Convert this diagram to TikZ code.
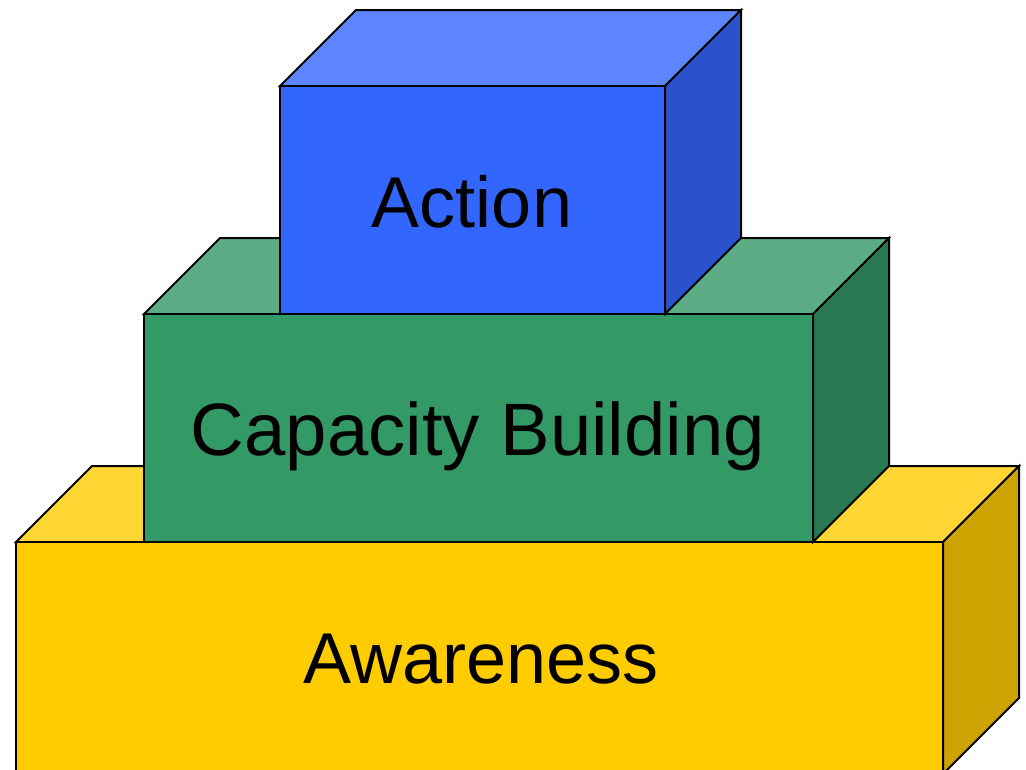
\documentclass[tikz,border=0pt]{standalone}
\usepackage{fontspec}
\setmainfont{Liberation Sans}
\definecolor{yfront}{HTML}{FFCC00}
\definecolor{ytop}{HTML}{FFD633}
\definecolor{yside}{HTML}{CCA300}
\definecolor{gfront}{HTML}{339966}
\definecolor{gtop}{HTML}{5CAD85}
\definecolor{gside}{HTML}{297A52}
\definecolor{bfront}{HTML}{3366FF}
\definecolor{btop}{HTML}{5C85FF}
\definecolor{bside}{HTML}{2952CC}
\newcommand{\mybox}[7]{%
  % #1 x1, #2 y1 (top), #3 x2, #4 y2 (bottom), #5 front, #6 top, #7 side
  \filldraw[face,fill=#6] (#1,#2) -- ++(76,-76) -- (#3+76,#2-76) -- (#3,#2) -- cycle;
  \filldraw[face,fill=#7] (#3,#2) -- (#3+76,#2-76) -- (#3+76,#4-76) -- (#3,#4) -- cycle;
  \filldraw[face,fill=#5] (#1,#2) rectangle (#3,#4);
}
\begin{document}
\begin{tikzpicture}[x=1pt,y=-1pt,
  face/.style={draw=black,line width=2pt,line join=miter},
  label/.style={font=\fontsize{72}{86}\selectfont,text=black,anchor=base,inner sep=0pt}]
\useasboundingbox (0,0) rectangle (1026,769);
\clip (0,0) rectangle (1026,769);
\mybox{16}{542}{943}{774}{yfront}{ytop}{yside}
\mybox{144}{314}{813}{542}{gfront}{gtop}{gside}
\mybox{280}{86}{665}{314}{bfront}{btop}{bside}
\node[label] (action) at (472,227) {Action};
\node[label,font=\fontsize{74.3}{88}\selectfont] (capacity) at (478,455) {Capacity Building};
\node[label] (awareness) at (481,683) {Awareness};
\end{tikzpicture}
\end{document}
